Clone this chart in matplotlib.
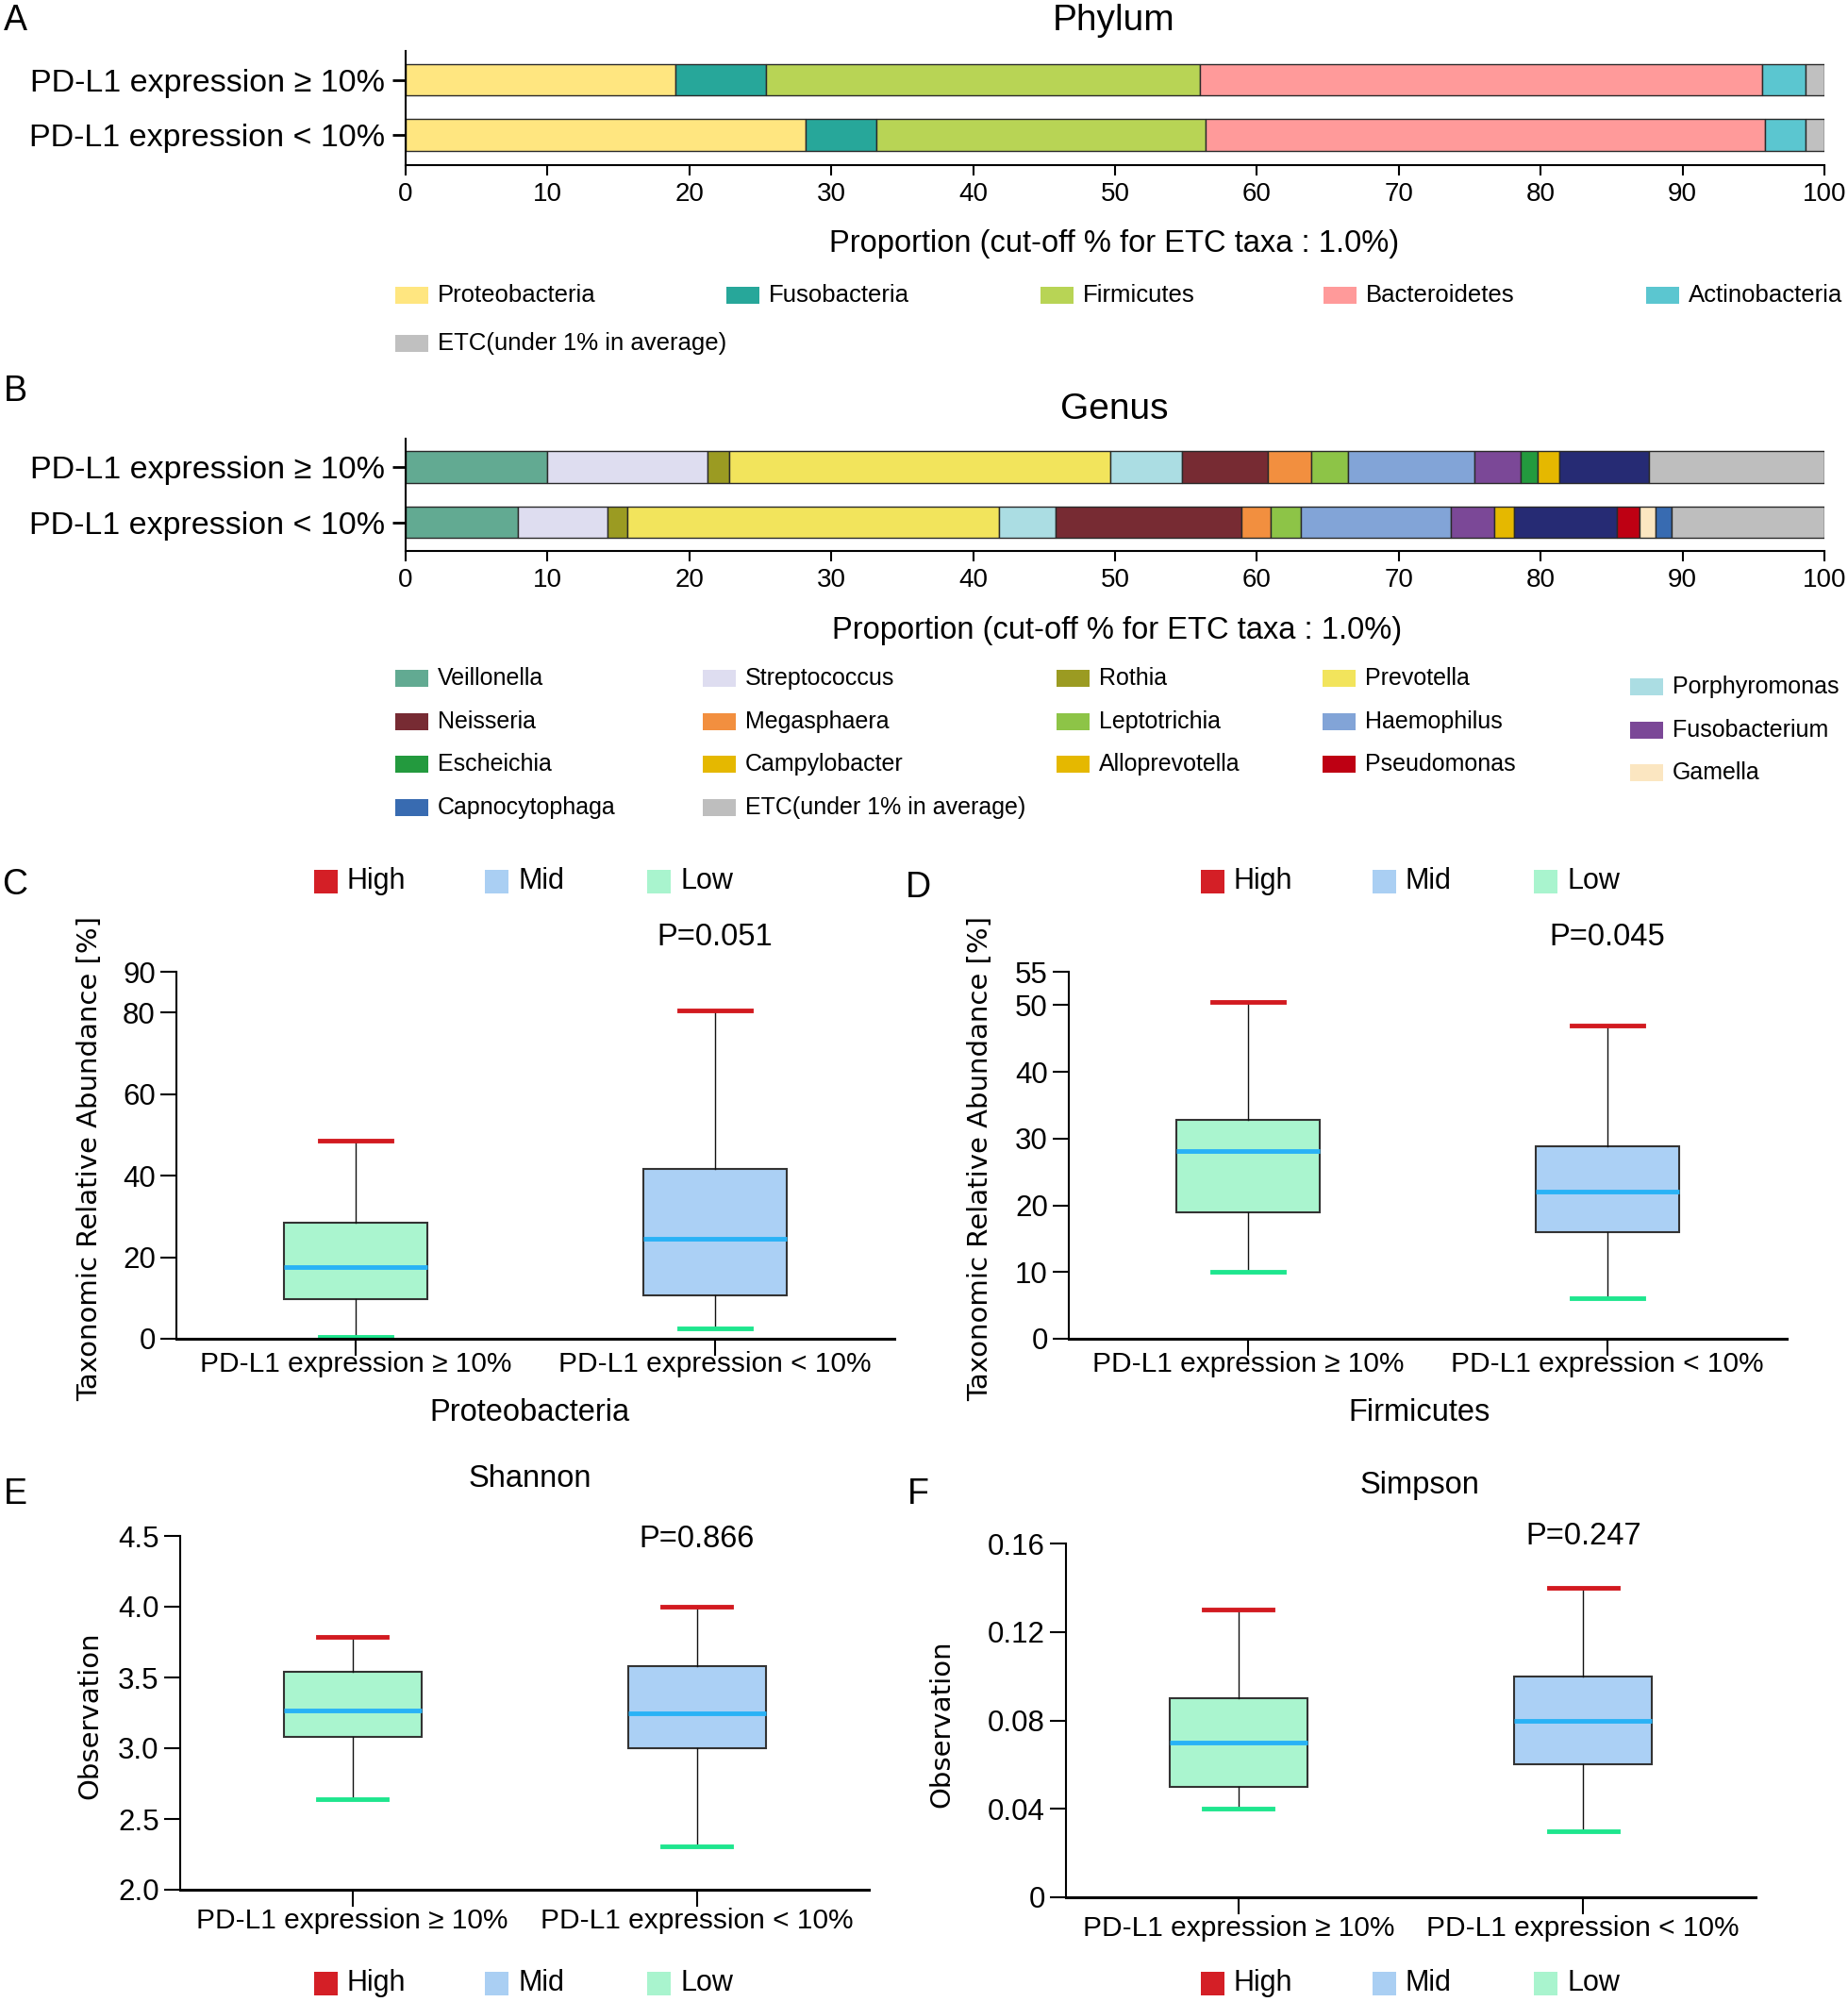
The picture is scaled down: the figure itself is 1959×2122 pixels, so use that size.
import matplotlib
matplotlib.use("Agg")
import matplotlib.pyplot as plt
from matplotlib.patches import Rectangle
from matplotlib.transforms import blended_transform_factory

W, H = 1959, 2122
plt.rcParams["font.family"] = ["Liberation Sans", "DejaVu Sans"]

groups = ["PD-L1 expression \u2265 10%", "PD-L1 expression < 10%"]

# panel A - phylum composition (%)
phyla = ["Proteobacteria", "Fusobacteria", "Firmicutes", "Bacteroidetes",
         "Actinobacteria", "ETC(under 1% in average)"]
phylum_hi = [19.0, 6.4, 30.6, 39.6, 3.1, 1.3]
phylum_lo = [28.2, 5.0, 23.2, 39.4, 2.9, 1.3]
phylum_colors = ["#FFE680", "#27A79A", "#B8D455", "#FF9A9A", "#5BC6D0", "#C0C0C0"]

# panel B - genus composition (%)
genera = ["Veillonella", "Streptococcus", "Rothia", "Prevotella", "Porphyromonas",
          "Neisseria", "Megasphaera", "Leptotrichia", "Haemophilus", "Fusobacterium",
          "Escheichia", "Campylobacter", "Alloprevotella", "Pseudomonas", "Gamella",
          "Capnocytophaga", "ETC(under 1% in average)"]
genus_hi = [10.0, 11.3, 1.5, 26.9, 5.0, 6.1, 3.0, 2.6, 8.9, 3.3,
            1.2, 1.5, 6.3, 0.0, 0.0, 0.0, 12.4]
genus_lo = [7.9, 6.3, 1.4, 26.2, 4.0, 13.1, 2.1, 2.1, 10.6, 3.0,
            0.0, 1.4, 7.3, 1.6, 1.1, 1.1, 10.8]
genus_colors = ["#62AA92", "#DEDDF0", "#9B9B22", "#F2E45C", "#ABDDE3",
                "#772B33", "#F28F3F", "#8DC447", "#82A4D7", "#7B4897",
                "#239A3E", "#E5B800", "#262B74", "#BE0013", "#FBE6C1",
                "#386BB1", "#BEBEBE"]
# the published legend shows Alloprevotella in gold
legend_color_override = {"Alloprevotella": "#E5B800"}

# panels C-F - box statistics: whislo, q1, median, q3, whishi
proteo_hi = [0.5, 9.8, 17.5, 28.4, 48.7]
proteo_lo = [2.6, 10.6, 24.6, 41.7, 80.5]
firm_hi = [10.0, 19.0, 28.1, 32.8, 50.5]
firm_lo = [6.1, 16.0, 22.1, 28.9, 46.9]
shannon_hi = [2.64, 3.08, 3.27, 3.54, 3.79]
shannon_lo = [2.31, 3.00, 3.25, 3.58, 4.00]
simpson_hi = [0.04, 0.05, 0.07, 0.09, 0.13]
simpson_lo = [0.03, 0.06, 0.08, 0.10, 0.14]

box_fill = ["#AAF5CF", "#ABD0F5"]
level_names = ["High", "Mid", "Low"]
level_colors = ["#D41F26", "#AACFF3", "#A9F4CE"]

fig = plt.figure(figsize=(W / 100, H / 100), dpi=100)


def add_ax(l, t, r, b):
    return fig.add_axes([l / W, 1 - b / H, (r - l) / W, (b - t) / H])


def ftext(x, y, s, **kw):
    kw.setdefault("va", "center")
    fig.text(x / W, 1 - y / H, s, **kw)


def legend_item(x, y, color, label, w=35, h=18, gap=10, fs=18):
    fig.add_artist(Rectangle((x / W, 1 - (y + h / 2) / H), w / W, h / H,
                             transform=fig.transFigure, facecolor=color,
                             edgecolor="none"))
    ftext(x + w + gap, y, label, fontsize=fs, ha="left")


def stacked(ax, values_hi, values_lo, colors, ylim):
    for yi, vals in enumerate([values_hi, values_lo]):
        left = 0.0
        for v, c in zip(vals, colors):
            if v > 0:
                ax.barh(yi, v, left=left, height=0.57, color=c,
                        edgecolor="#2a2a2a", linewidth=1.0)
            left += v
    ax.set_xlim(0, 100)
    ax.set_ylim(*ylim)
    ax.set_yticks([0, 1])
    ax.set_yticklabels(groups, fontsize=24.5)
    ax.set_xticks(range(0, 101, 10))
    ax.tick_params(axis="x", labelsize=20, length=8, width=1.5, pad=5)
    ax.tick_params(axis="y", length=10, width=2, pad=6)
    for s in ["top", "right"]:
        ax.spines[s].set_visible(False)
    for s in ["left", "bottom"]:
        ax.spines[s].set_linewidth(1.5)


# ---------- panel A ----------
axA = add_ax(430, 54, 1934, 175)
stacked(axA, phylum_hi, phylum_lo, phylum_colors, (1.55, -0.527))
ftext(4, 22, "A", fontsize=27, ha="left")
ftext(1181, 22, "Phylum", fontsize=28, ha="center")
ftext(1181, 259, "Proportion (cut-off % for ETC taxa : 1.0%)", fontsize=23.5, ha="center")
phy_x = [419, 770, 1103, 1403, 1745, 419]
phy_y = [313, 313, 313, 313, 313, 364]
for name, c, x, y in zip(phyla, phylum_colors, phy_x, phy_y):
    legend_item(x, y, c, name, gap=10, fs=18.5)

# ---------- panel B ----------
axB = add_ax(430, 465, 1934, 584)
stacked(axB, genus_hi, genus_lo, genus_colors, (1.52, -0.513))
ftext(4, 415, "B", fontsize=27, ha="left")
ftext(1181, 434, "Genus", fontsize=28, ha="center")
ftext(1184, 669, "Proportion (cut-off % for ETC taxa : 1.0%)", fontsize=23.5, ha="center")

grid4 = ["Veillonella", "Streptococcus", "Rothia", "Prevotella",
         "Neisseria", "Megasphaera", "Leptotrichia", "Haemophilus",
         "Escheichia", "Campylobacter", "Alloprevotella", "Pseudomonas",
         "Capnocytophaga", "ETC(under 1% in average)"]
col5 = ["Porphyromonas", "Fusobacterium", "Gamella"]
gcol_x = [419, 745, 1120, 1402]
grow_y = [719, 765, 810, 856]
gcolor = dict(zip(genera, genus_colors))
gcolor.update(legend_color_override)
for i, name in enumerate(grid4):
    legend_item(gcol_x[i % 4], grow_y[i // 4], gcolor[name], name, fs=18)
for i, name in enumerate(col5):
    legend_item(1728, [728, 774, 819][i], gcolor[name], name, fs=18)


# ---------- box panels ----------
def box_panel(ax, stats_hi, stats_lo, ylim, yticks, yticklabels, pval, p_y, xpad):
    stats = []
    for s in [stats_hi, stats_lo]:
        stats.append(dict(whislo=s[0], q1=s[1], med=s[2], q3=s[3], whishi=s[4], fliers=[]))
    art = ax.bxp(stats, positions=[1, 2], widths=0.4, capwidths=0.2,
                 patch_artist=True, showfliers=False,
                 boxprops=dict(edgecolor="#333333", linewidth=1.5),
                 medianprops=dict(color="#29B2F6", linewidth=3.5),
                 whiskerprops=dict(color="#111111", linewidth=1.0),
                 capprops=dict(linewidth=3.5))
    for patch, c in zip(art["boxes"], box_fill):
        patch.set_facecolor(c)
    for i, cap in enumerate(art["caps"]):
        cap.set_color("#1EE68E" if i % 2 == 0 else "#D21A20")
    ax.set_xlim(0.5, 2.5)
    ax.set_ylim(*ylim)
    ax.set_yticks(yticks)
    ax.set_yticklabels(yticklabels)
    ax.set_xticks([1, 2])
    ax.set_xticklabels(groups)
    ax.tick_params(axis="x", labelsize=21.5, length=13, width=1.5, pad=xpad)
    ax.tick_params(axis="y", labelsize=22.5, length=12, width=1.5, pad=4)
    for s in ["top", "right"]:
        ax.spines[s].set_visible(False)
    ax.spines["left"].set_linewidth(1.5)
    ax.spines["bottom"].set_linewidth(2.2)
    tr = blended_transform_factory(ax.transData, ax.transAxes)
    ax.text(2, p_y, pval, transform=tr, ha="center", va="center", fontsize=23.5)


def level_legend(xs, y):
    for (px, tx), name, c in zip(xs, level_names, level_colors):
        fig.add_artist(Rectangle((px / W, 1 - (y + 12.5) / H), 25 / W, 25 / H,
                                 transform=fig.transFigure, facecolor=c,
                                 edgecolor="none"))
        ftext(tx, y, name, fontsize=22, ha="left")


left_leg = [(333, 367), (514, 549), (686, 721)]
right_leg = [(1273, 1307), (1455, 1489), (1626, 1661)]
ylab_font = dict(fontsize=21, family="DejaVu Sans", rotation=90, ha="center")

# C
axC = add_ax(187, 1030, 948, 1419)
box_panel(axC, proteo_hi, proteo_lo, (0, 90), [0, 20, 40, 60, 80, 90],
          ["0", "20", "40", "60", "80", "90"], "P=0.051", 1.093, -4)
ftext(2, 938, "C", fontsize=27, ha="left")
level_legend(left_leg, 934)
ftext(95, 1228, "Taxonomic Relative Abundance [%]", **ylab_font)
ftext(561, 1498, "Proteobacteria", fontsize=23.5, ha="center")

# D
axD = add_ax(1133, 1030, 1894, 1419)
box_panel(axD, firm_hi, firm_lo, (0, 55), [0, 10, 20, 30, 40, 50, 55],
          ["0", "10", "20", "30", "40", "50", "55"], "P=0.045", 1.093, -4)
ftext(960, 941, "D", fontsize=27, ha="left")
level_legend(right_leg, 934)
ftext(1039, 1228, "Taxonomic Relative Abundance [%]", **ylab_font)
ftext(1505, 1498, "Firmicutes", fontsize=23.5, ha="center")

# E
axE = add_ax(191, 1628, 921, 2003)
box_panel(axE, shannon_hi, shannon_lo, (2.0, 4.5), [2.0, 2.5, 3.0, 3.5, 4.0, 4.5],
          ["2.0", "2.5", "3.0", "3.5", "4.0", "4.5"], "P=0.866", 0.992, 1)
ftext(4, 1584, "E", fontsize=27, ha="left")
ftext(562, 1568, "Shannon", fontsize=23.5, ha="center")
ftext(95, 1818, "Observation", **ylab_font)
level_legend(left_leg, 2102)

# F
axF = add_ax(1130, 1636, 1861, 2011)
box_panel(axF, simpson_hi, simpson_lo, (0, 0.16), [0, 0.04, 0.08, 0.12, 0.16],
          ["0", "0.04", "0.08", "0.12", "0.16"], "P=0.247", 1.019, 1)
ftext(962, 1584, "F", fontsize=27, ha="left")
ftext(1505, 1575, "Simpson", fontsize=23.5, ha="center")
ftext(998, 1827, "Observation", **ylab_font)
level_legend(right_leg, 2102)

fig.savefig("out.png", dpi=100)
